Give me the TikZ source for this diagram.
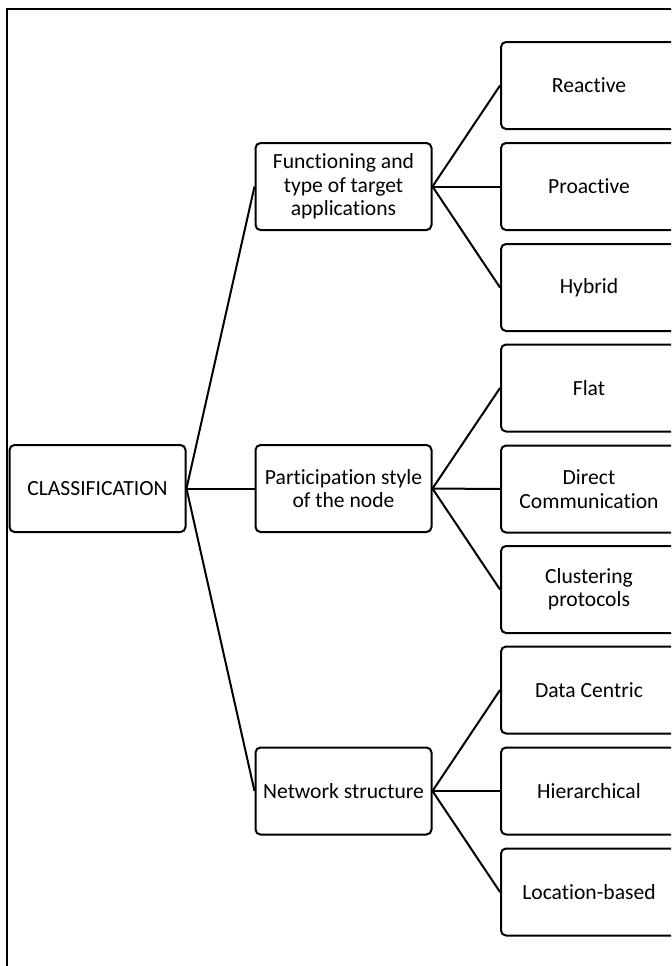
\documentclass[tikz,border=0pt]{standalone}
\usepackage{fontspec}
\setmainfont[Ligatures={NoCommon}]{Carlito}
\usepackage{xcolor}

\tikzset{
  catbox/.style={draw, rounded corners=2.5pt, line width=1pt, align=center,
    minimum width=88pt, minimum height=43.5pt, inner sep=2pt,
    font=\fontsize{10.8pt}{11.7pt}\selectfont},
  link/.style={line width=1pt}
}

\begin{document}
\begin{tikzpicture}[x=0.5pt, y=-0.5pt]
  \clip (0,0) rectangle (671,966);
  \draw[line width=0.55pt] (7,966) -- (7,9) -- (680,9);
  % root and middle level
  \node[catbox] (cls) at (97.5,488.5) {CLASSIFICATION};
  \node[catbox] (fun) at (343.5,186.5) {Functioning and\\type of target\\applications};
  \node[catbox] (par) at (343.5,488.5) {Participation style\\of the node};
  \node[catbox] (net) at (343.5,791) {Network structure};
  % leaves
  \node[catbox] (rea) at (589,85.5) {Reactive};
  \node[catbox] (pro) at (589,186.5) {Proactive};
  \node[catbox] (hyb) at (589,287.5) {Hybrid};
  \node[catbox] (fla) at (589,388) {Flat};
  \node[catbox] (dir) at (589,489) {Direct\\Communication};
  \node[catbox] (clu) at (589,589.5) {Clustering\\protocols};
  \node[catbox] (dat) at (589,690) {Data Centric};
  \node[catbox] (hie) at (589,791) {Hierarchical};
  \node[catbox] (loc) at (589,892) {Location-based};
  % connectors
  \draw[link] (cls.east) -- (fun.west);
  \draw[link] (cls.east) -- (par.west);
  \draw[link] (cls.east) -- (net.west);
  \draw[link] (fun.east) -- (rea.west);
  \draw[link] (fun.east) -- (pro.west);
  \draw[link] (fun.east) -- (hyb.west);
  \draw[link] (par.east) -- (fla.west);
  \draw[link] (par.east) -- (dir.west);
  \draw[link] (par.east) -- (clu.west);
  \draw[link] (net.east) -- (dat.west);
  \draw[link] (net.east) -- (hie.west);
  \draw[link] (net.east) -- (loc.west);
\end{tikzpicture}
\end{document}
